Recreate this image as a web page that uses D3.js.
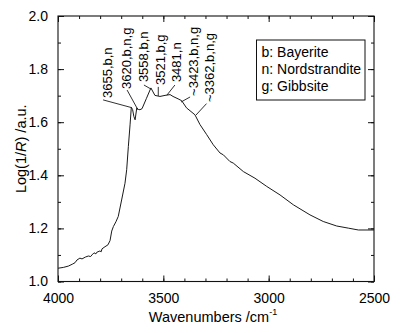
<!DOCTYPE html>
<html>
<head>
<meta charset="utf-8">
<script src="https://cdn.jsdelivr.net/npm/d3@7"></script>
<style>
  html, body { margin: 0; padding: 0; background: #fff; }
  svg { display: block; font-family: "Liberation Sans", Arial, sans-serif; }
</style>
</head>
<body>
<svg id="chart" width="400" height="333"></svg>
<script>
// ---- data ----
const wavenumbers = [4000, 3975, 3951, 3930, 3919, 3910, 3896, 3886, 3870, 3856, 3845, 3839, 3829, 3820, 3816, 3801, 3795, 3791, 3777, 3763, 3753, 3745, 3737, 3725, 3714, 3698, 3682, 3674, 3666, 3658, 3652, 3646, 3640, 3634, 3626, 3618, 3611, 3601, 3580, 3559, 3540, 3516, 3492, 3468, 3454, 3430, 3413, 3390, 3350, 3326, 3294, 3263, 3231, 3215, 3184, 3168, 3120, 3065, 3009, 2946, 2883, 2804, 2741, 2677, 2622, 2574, 2500];
const logInvR = [1.050, 1.053, 1.058, 1.066, 1.071, 1.081, 1.088, 1.085, 1.092, 1.096, 1.094, 1.100, 1.108, 1.104, 1.110, 1.115, 1.112, 1.123, 1.131, 1.138, 1.154, 1.190, 1.207, 1.225, 1.245, 1.307, 1.370, 1.421, 1.509, 1.590, 1.656, 1.648, 1.622, 1.609, 1.654, 1.648, 1.647, 1.651, 1.690, 1.729, 1.701, 1.697, 1.701, 1.704, 1.697, 1.688, 1.681, 1.654, 1.628, 1.591, 1.553, 1.515, 1.484, 1.477, 1.452, 1.446, 1.414, 1.389, 1.358, 1.326, 1.289, 1.251, 1.226, 1.209, 1.201, 1.194, 1.194];

const xTickValues = [4000, 3500, 3000, 2500];
const yTickValues = [1.0, 1.2, 1.4, 1.6, 1.8, 2.0];

// band annotations (text anchored in data units, leader from/to in data units)
const annoText   = ["3655,b,n", "3620,b,n,g", "3558,b,n", "3521,b,g", "3481,n", "~3423,b,n,g", "~3362,b,n,g"];
const annoTextWn = [3744, 3653, 3573, 3492, 3416, 3335, 3259];
const annoTextV  = [1.691, 1.725, 1.751, 1.740, 1.751, 1.699, 1.676];
const leadFromWn = [3786, 3672, 3592, 3524, 3445, 3373, 3295];
const leadFromV  = [1.684, 1.721, 1.740, 1.733, 1.740, 1.695, 1.670];
const leadToWn   = [3651, 3620, 3559, 3524, 3483, 3416, 3345];
const leadToV    = [1.655, 1.646, 1.725, 1.699, 1.702, 1.676, 1.627];

const legendLines = ["b: Bayerite", "n: Nordstrandite", "g: Gibbsite"];

// ---- layout ----
const svg = d3.select("#chart");
const L = 58, R = 374, T = 16, B = 281.5;
const x = d3.scaleLinear().domain([4000, 2500]).range([L, R]);
const y = d3.scaleLinear().domain([1, 2]).range([B, T]);

const fmtY = d3.format(".1f");
const axisStroke = "#111";

function styleAxis(g) {
  g.select(".domain").remove();
  g.selectAll("line").attr("stroke", axisStroke).attr("stroke-width", 1);
  g.selectAll("text").attr("fill", "#000").attr("font-size", 14)
    .attr("font-family", "'Liberation Sans', Arial, sans-serif");
}

// minor ticks
const xMinor = d3.range(4000, 2499, -100);
const yMinor = d3.range(10, 21).map(d => d / 10);

// bottom axis
svg.append("g").attr("transform", `translate(0,${B})`)
  .call(d3.axisBottom(x).tickValues(xMinor).tickSize(-3).tickFormat(""))
  .call(styleAxis);
svg.append("g").attr("transform", `translate(0,${B})`)
  .call(d3.axisBottom(x).tickValues(xTickValues).tickSize(-6).tickPadding(12).tickFormat(d3.format("d")))
  .call(styleAxis);
// top axis
svg.append("g").attr("transform", `translate(0,${T})`)
  .call(d3.axisTop(x).tickValues(xMinor).tickSize(-3).tickFormat(""))
  .call(styleAxis);
svg.append("g").attr("transform", `translate(0,${T})`)
  .call(d3.axisTop(x).tickValues(xTickValues).tickSize(-6).tickFormat(""))
  .call(styleAxis);
// left axis
svg.append("g").attr("transform", `translate(${L},0)`)
  .call(d3.axisLeft(y).tickValues(yMinor).tickSize(-3).tickFormat(""))
  .call(styleAxis);
svg.append("g").attr("transform", `translate(${L},0)`)
  .call(d3.axisLeft(y).tickValues(yTickValues).tickSize(-6).tickPadding(10).tickFormat(fmtY))
  .call(styleAxis);
// right axis
svg.append("g").attr("transform", `translate(${R},0)`)
  .call(d3.axisRight(y).tickValues(yMinor).tickSize(-3).tickFormat(""))
  .call(styleAxis);
svg.append("g").attr("transform", `translate(${R},0)`)
  .call(d3.axisRight(y).tickValues(yTickValues).tickSize(-6).tickFormat(""))
  .call(styleAxis);

// frame
svg.append("rect").attr("x", L).attr("y", T).attr("width", R - L).attr("height", B - T)
  .attr("fill", "none").attr("stroke", axisStroke).attr("stroke-width", 1.1);

// curve
const pts = wavenumbers.map((w, i) => [w, logInvR[i]]);
svg.append("path").datum(pts)
  .attr("fill", "none").attr("stroke", "#1a1a1a").attr("stroke-width", 1)
  .attr("stroke-linejoin", "round")
  .attr("d", d3.line().x(d => x(d[0])).y(d => y(d[1])));

// leaders
annoText.forEach((t, i) => {
  svg.append("line")
    .attr("x1", x(leadFromWn[i])).attr("y1", y(leadFromV[i]))
    .attr("x2", x(leadToWn[i])).attr("y2", y(leadToV[i]))
    .attr("stroke", "#1a1a1a").attr("stroke-width", 0.9);
  svg.append("text")
    .attr("transform", `translate(${x(annoTextWn[i])},${y(annoTextV[i])}) rotate(-90)`)
    .attr("font-size", 13).attr("fill", "#000")
    .text(t);
});

// legend
const lg = svg.append("g");
lg.append("rect").attr("x", 256.5).attr("y", 40).attr("width", 108.5).attr("height", 60)
  .attr("fill", "#fff").attr("stroke", axisStroke).attr("stroke-width", 1);
legendLines.forEach((t, i) => {
  lg.append("text").attr("x", 261.5).attr("y", 57 + i * 17.2)
    .attr("font-size", 14).attr("fill", "#000").text(t);
});

// axis titles
const yt = svg.append("text")
  .attr("transform", `translate(26,${(T + B) / 2}) rotate(-90)`)
  .attr("text-anchor", "middle").attr("font-size", 14.5).attr("fill", "#000");
yt.append("tspan").text("Log(1/");
yt.append("tspan").attr("font-style", "italic").text("R");
yt.append("tspan").text(") /a.u.");

const xt = svg.append("text")
  .attr("x", (L + R) / 2 - 3).attr("y", 322)
  .attr("text-anchor", "middle").attr("font-size", 14.5).attr("fill", "#000");
xt.append("tspan").text("Wavenumbers /cm");
xt.append("tspan").attr("font-size", 9).attr("dy", -7).text("-1");
</script>
</body>
</html>
